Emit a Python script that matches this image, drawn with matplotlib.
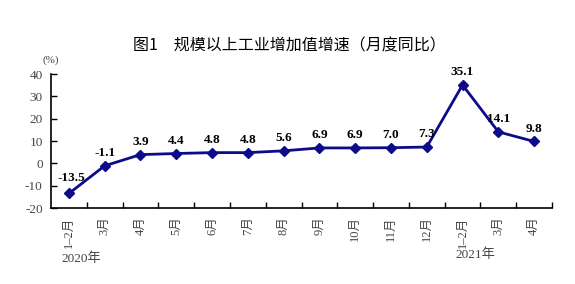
import matplotlib.pyplot as plt

months = ['1–2月', '3月', '4月', '5月', '6月', '7月', '8月', '9月', '10月',
          '11月', '12月', '1–2月', '3月', '4月']
growth = [-13.5, -1.1, 3.9, 4.4, 4.8, 4.8, 5.6, 6.9, 6.9, 7.0, 7.3, 35.1, 14.1, 9.8]
years = [(0, '2020年', -42.5), (11, '2021年', -41.0)]

serif = ['Liberation Serif', 'Noto Sans CJK SC']
line_c = '#0c0c8a'

fig = plt.figure(figsize=(5.75, 2.84), dpi=100)
ax = fig.add_axes([0.0887, 0.2676, 0.8713, 0.4718])

x = list(range(len(growth)))
ax.plot(x, growth, color=line_c, lw=2, marker='D', ms=5, zorder=3)

for i, v in zip(x, growth):
    off = (2, 7) if i == 0 else (0, 5)
    ax.annotate(f'{v:.1f}', (i, v), xytext=off, textcoords='offset points',
                ha='center', va='bottom', fontsize=9.5, fontweight='bold', family=serif)

ax.set_xlim(-0.5, len(growth) - 0.5)
ax.set_ylim(-20, 40)
ax.set_yticks(range(-20, 41, 10))
ax.set_yticklabels([str(t) for t in range(-20, 41, 10)], family=serif, fontsize=9.5, color='#444444')

# ticks at category boundaries, labels at centers
ax.set_xticks([i + 0.5 for i in x])
ax.set_xticklabels([])
ax.set_xticks(x, minor=True)
ax.set_xticklabels(months, minor=True, rotation=90, family=serif, fontsize=9,
                   color='#444444', va='top')
ax.tick_params(axis='x', which='major', direction='in', length=4, width=1)
ax.tick_params(axis='x', which='minor', length=0, pad=6)
ax.tick_params(axis='y', direction='in', length=4, width=1, pad=6)

for s in ['top', 'right']:
    ax.spines[s].set_visible(False)
for s in ['left', 'bottom']:
    ax.spines[s].set_linewidth(1.2)

for i, label, yy in years:
    ax.text(i - 0.2, yy, label, ha='left', va='center',
            family=serif, fontsize=9.5, color='#444444', clip_on=False)

ax.text(-0.5, 46, '(%)', ha='center', va='center', family=serif, fontsize=8, color='#444444')

fig.text(0.503, 0.838, '图1　规模以上工业增加值增速（月度同比）', ha='center', va='center',
         fontsize=11.5, family=['Noto Sans CJK SC', 'DejaVu Sans'])

fig.savefig('out.png', dpi=100)
